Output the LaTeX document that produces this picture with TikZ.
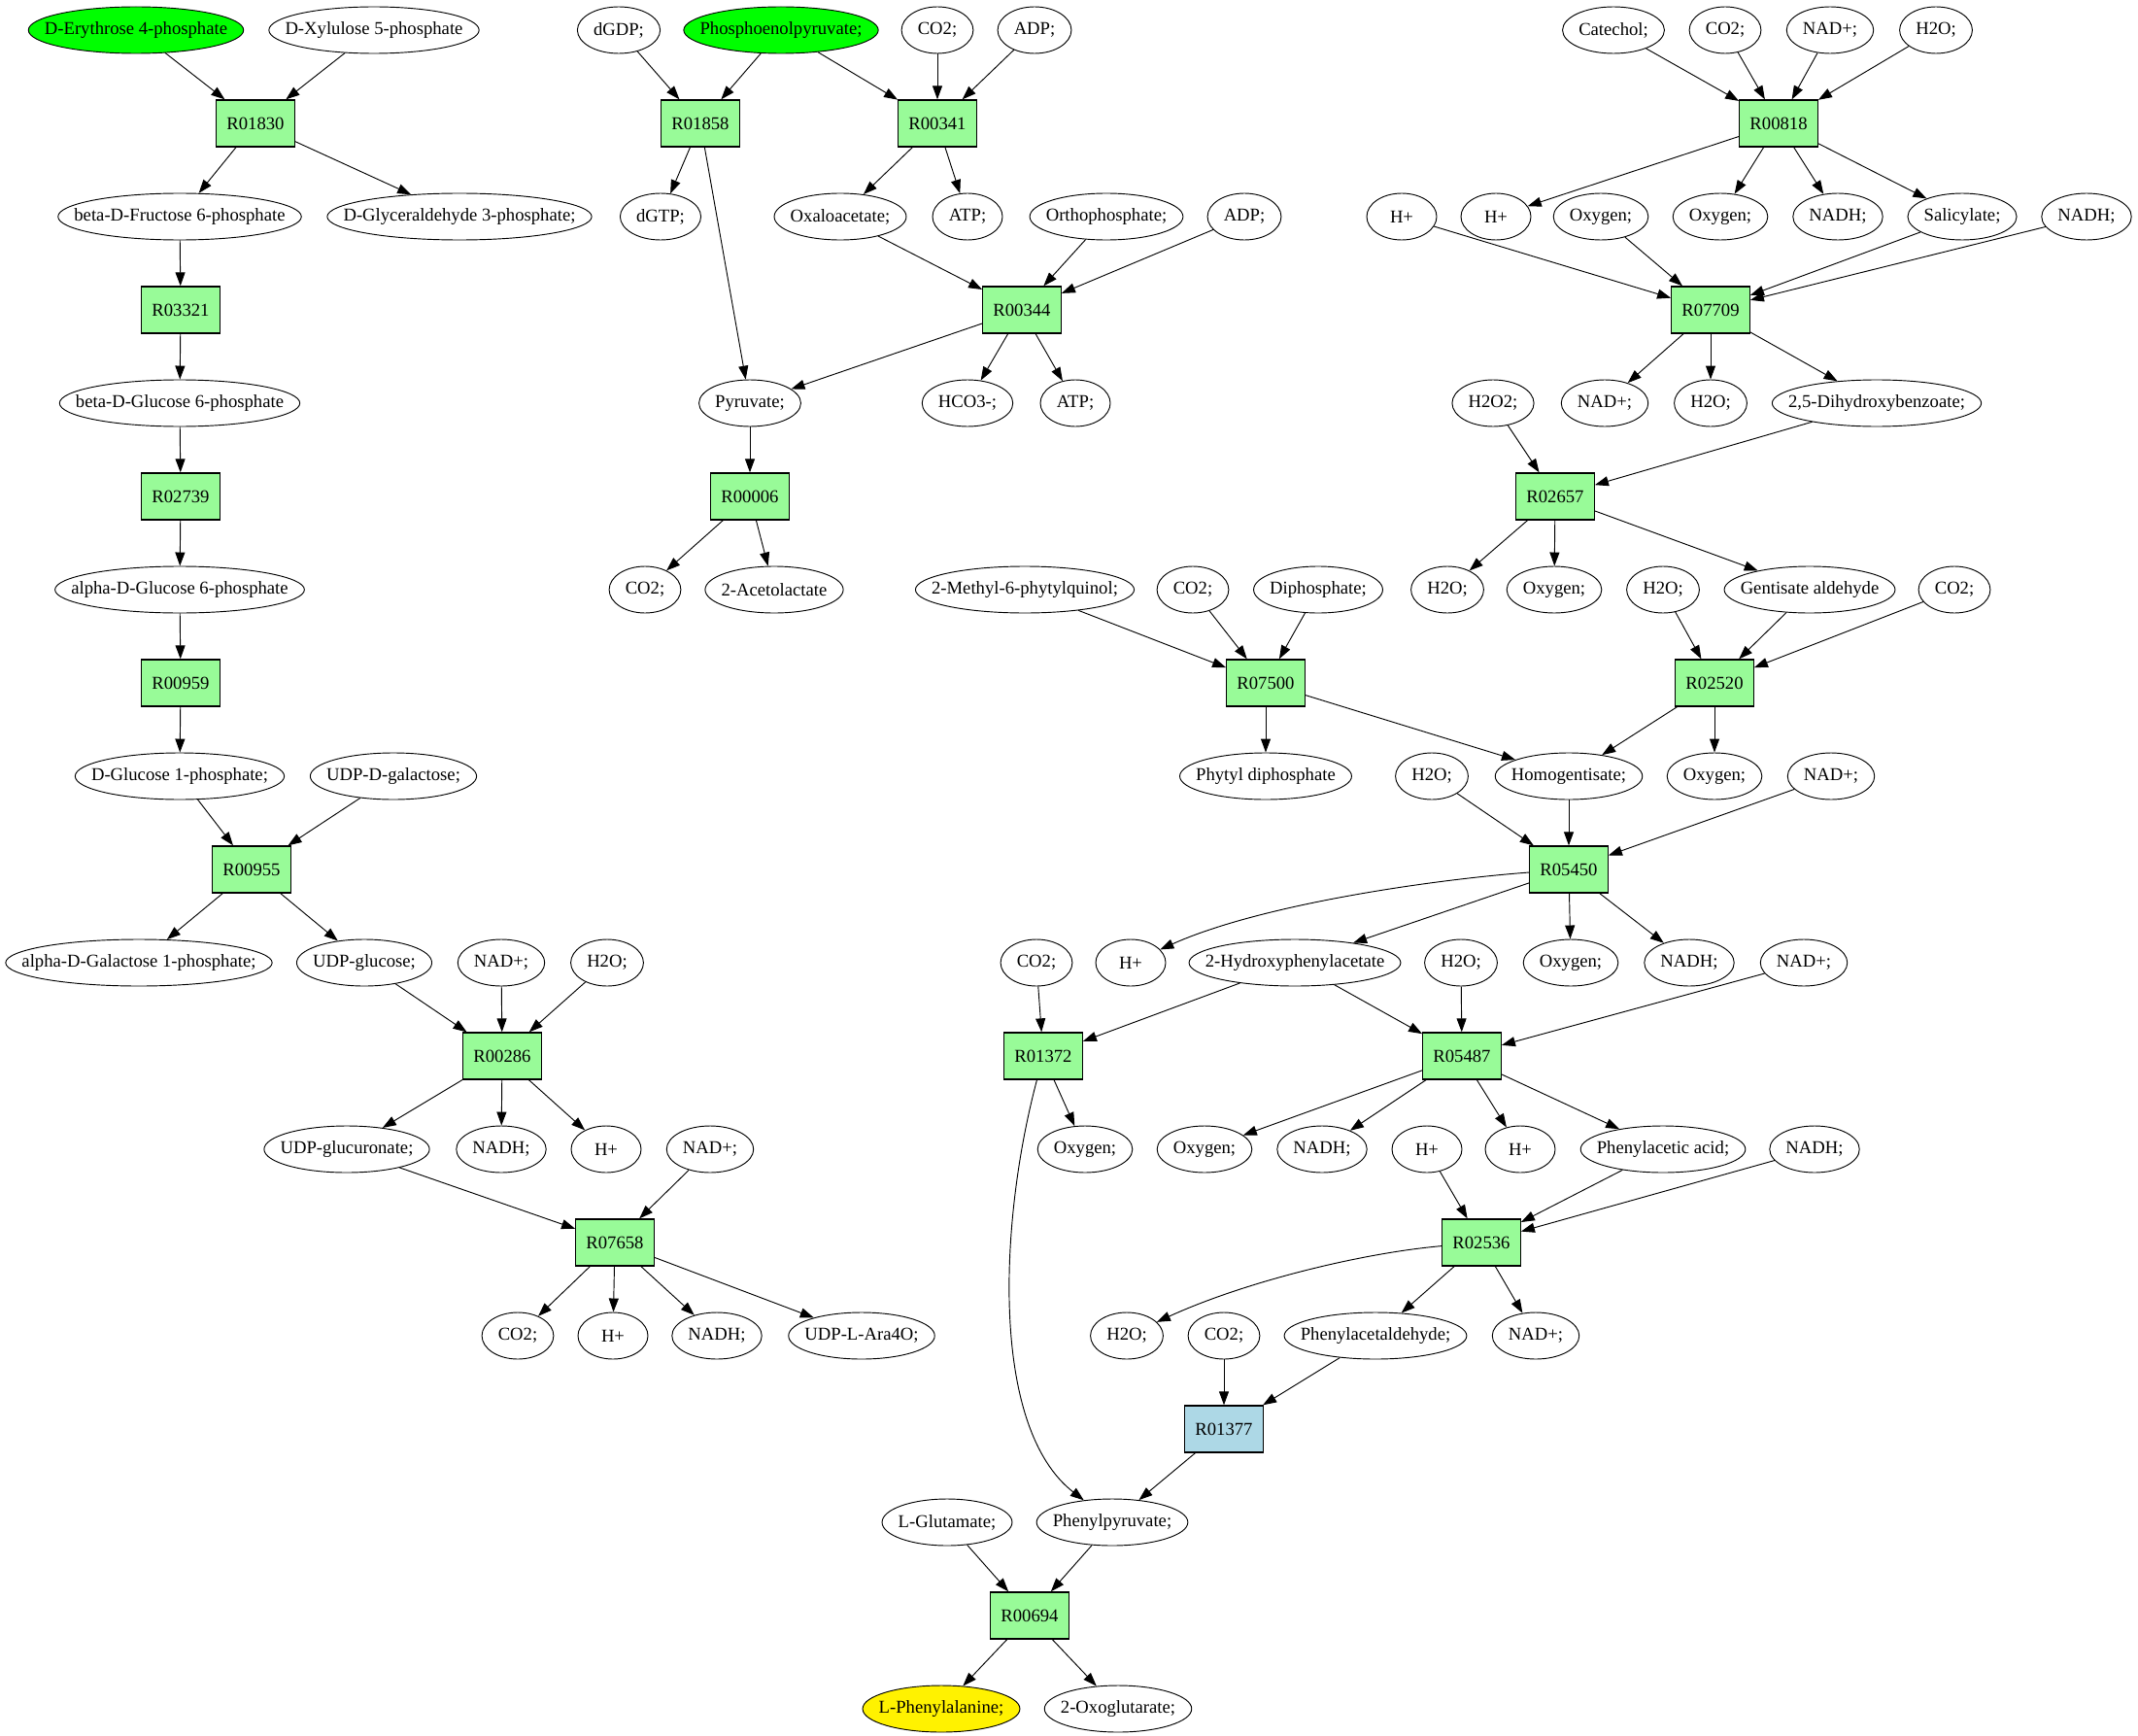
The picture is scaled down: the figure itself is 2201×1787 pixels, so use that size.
\documentclass[tikz,border=0pt]{standalone}
\usepackage{fontspec}
\setmainfont{Liberation Serif}
\usepackage{tikz}
\usetikzlibrary{shapes.geometric,arrows.meta}
\definecolor{palegreen}{HTML}{98FB98}
\definecolor{lightblue}{HTML}{ADD8E6}
% ellipses are sized from a narrowed label box
\newcommand{\gvlabel}[1]{\makebox[0.7071\width]{#1}}

\begin{document}
\begin{tikzpicture}[
		x=0.75pt, y=-0.75pt,
		flow/.style={line width=0.7pt, -{Triangle[length=10.5pt, width=7.5pt]}},
		every edge/.style={draw, flow},
		met/.style={ellipse, draw, line width=0.7pt, minimum width=54pt, minimum height=36pt,
			inner xsep=8.84pt, inner ysep=2pt, font=\fontsize{14}{16}\selectfont},
		rxn/.style={rectangle, draw, line width=1pt, fill=palegreen, minimum width=54pt,
			minimum height=36pt, inner xsep=8pt, font=\fontsize{14}{16}\selectfont}
	]
  \useasboundingbox (0, 0) rectangle (2201, 1787);
  % row 0
  \node (e4p) [met, fill=green] at (140, 31) {\gvlabel{D-Erythrose 4-phosphate}};
  \node (x5p) [met] at (385, 31) {\gvlabel{D-Xylulose 5-phosphate}};
  \node (dgdp) [met] at (637, 31) {\gvlabel{dGDP;}};
  \node (pep) [met, fill=green] at (804, 31) {\gvlabel{Phosphoenolpyruvate;}};
  \node (co2_a) [met] at (965, 31) {\gvlabel{CO2;}};
  \node (adp_a) [met] at (1065, 31) {\gvlabel{ADP;}};
  \node (catechol) [met] at (1661, 31) {\gvlabel{Catechol;}};
  \node (co2_b) [met] at (1776, 31) {\gvlabel{CO2;}};
  \node (nad_a) [met] at (1884, 31) {\gvlabel{NAD+;}};
  \node (h2o_a) [met] at (1993, 31) {\gvlabel{H2O;}};
  % row 1
  \node (r01830) [rxn] at (263, 127) {R01830};
  \node (r01858) [rxn] at (721, 127) {R01858};
  \node (r00341) [rxn] at (965, 127) {R00341};
  \node (r00818) [rxn] at (1831, 127) {R00818};
  % row 2
  \node (f6p) [met] at (185, 223) {\gvlabel{beta-D-Fructose 6-phosphate}};
  \node (gap) [met] at (473, 223) {\gvlabel{D-Glyceraldehyde 3-phosphate;}};
  \node (dgtp) [met] at (680, 223) {\gvlabel{dGTP;}};
  \node (oaa) [met] at (865, 223) {\gvlabel{Oxaloacetate;}};
  \node (atp_a) [met] at (996, 223) {\gvlabel{ATP;}};
  \node (pi) [met] at (1139, 223) {\gvlabel{Orthophosphate;}};
  \node (adp_b) [met] at (1281, 223) {\gvlabel{ADP;}};
  \node (h_a) [met] at (1443, 223) {\gvlabel{H+}};
  \node (h_b) [met] at (1540, 223) {\gvlabel{H+}};
  \node (o2_a) [met] at (1648, 223) {\gvlabel{Oxygen;}};
  \node (o2_b) [met] at (1771, 223) {\gvlabel{Oxygen;}};
  \node (nadh_a) [met] at (1892, 223) {\gvlabel{NADH;}};
  \node (salicylate) [met] at (2020, 223) {\gvlabel{Salicylate;}};
  \node (nadh_b) [met] at (2148, 223) {\gvlabel{NADH;}};
  % row 3
  \node (r03321) [rxn] at (186, 319) {R03321};
  \node (r00344) [rxn] at (1052, 319) {R00344};
  \node (r07709) [rxn] at (1761, 319) {R07709};
  % row 4
  \node (bg6p) [met] at (185, 415) {\gvlabel{beta-D-Glucose 6-phosphate}};
  \node (pyr) [met] at (772, 415) {\gvlabel{Pyruvate;}};
  \node (hco3) [met] at (996, 415) {\gvlabel{HCO3-;}};
  \node (atp_b) [met] at (1107, 415) {\gvlabel{ATP;}};
  \node (h2o2) [met] at (1537, 415) {\gvlabel{H2O2;}};
  \node (nad_b) [met] at (1652, 415) {\gvlabel{NAD+;}};
  \node (h2o_b) [met] at (1761, 415) {\gvlabel{H2O;}};
  \node (dhb) [met] at (1932, 415) {\gvlabel{2,5-Dihydroxybenzoate;}};
  % row 5
  \node (r02739) [rxn] at (186, 511) {R02739};
  \node (r00006) [rxn] at (772, 511) {R00006};
  \node (r02657) [rxn] at (1601, 511) {R02657};
  % row 6
  \node (ag6p) [met] at (185, 607) {\gvlabel{alpha-D-Glucose 6-phosphate}};
  \node (co2_c) [met] at (664, 607) {\gvlabel{CO2;}};
  \node (acetolactate) [met] at (797, 607) {\gvlabel{2-Acetolactate}};
  \node (mpq) [met] at (1055, 607) {\gvlabel{2-Methyl-6-phytylquinol;}};
  \node (co2_d) [met] at (1228, 607) {\gvlabel{CO2;}};
  \node (ppi) [met] at (1357, 607) {\gvlabel{Diphosphate;}};
  \node (h2o_c) [met] at (1490, 607) {\gvlabel{H2O;}};
  \node (o2_c) [met] at (1600, 607) {\gvlabel{Oxygen;}};
  \node (h2o_d) [met] at (1712, 607) {\gvlabel{H2O;}};
  \node (gald) [met] at (1863, 607) {\gvlabel{Gentisate aldehyde}};
  \node (co2_e) [met] at (2012, 607) {\gvlabel{CO2;}};
  % row 7
  \node (r00959) [rxn] at (186, 703) {R00959};
  \node (r07500) [rxn] at (1303, 703) {R07500};
  \node (r02520) [rxn] at (1765, 703) {R02520};
  % row 8
  \node (g1p) [met] at (185, 799) {\gvlabel{D-Glucose 1-phosphate;}};
  \node (udpgal) [met] at (405, 799) {\gvlabel{UDP-D-galactose;}};
  \node (phytpp) [met] at (1303, 799) {\gvlabel{Phytyl diphosphate}};
  \node (h2o_e) [met] at (1474, 799) {\gvlabel{H2O;}};
  \node (hga) [met] at (1615, 799) {\gvlabel{Homogentisate;}};
  \node (o2_d) [met] at (1765, 799) {\gvlabel{Oxygen;}};
  \node (nad_c) [met] at (1885, 799) {\gvlabel{NAD+;}};
  % row 9
  \node (r00955) [rxn] at (259, 895) {R00955};
  \node (r05450) [rxn] at (1615, 895) {R05450};
  % row 10
  \node (gal1p) [met] at (143, 991) {\gvlabel{alpha-D-Galactose 1-phosphate;}};
  \node (udpglc) [met] at (375, 991) {\gvlabel{UDP-glucose;}};
  \node (nad_d) [met] at (516, 991) {\gvlabel{NAD+;}};
  \node (h2o_f) [met] at (625, 991) {\gvlabel{H2O;}};
  \node (co2_f) [met] at (1067, 991) {\gvlabel{CO2;}};
  \node (h_c) [met] at (1164, 991) {\gvlabel{H+}};
  \node (hpa) [met] at (1333, 991) {\gvlabel{2-Hydroxyphenylacetate}};
  \node (h2o_g) [met] at (1504, 991) {\gvlabel{H2O;}};
  \node (o2_e) [met] at (1617, 991) {\gvlabel{Oxygen;}};
  \node (nadh_c) [met] at (1739, 991) {\gvlabel{NADH;}};
  \node (nad_e) [met] at (1857, 991) {\gvlabel{NAD+;}};
  % row 11
  \node (r00286) [rxn] at (517, 1087) {R00286};
  \node (r01372) [rxn] at (1074, 1087) {R01372};
  \node (r05487) [rxn] at (1505, 1087) {R05487};
  % row 12
  \node (udpglca) [met] at (357, 1183) {\gvlabel{UDP-glucuronate;}};
  \node (nadh_d) [met] at (516, 1183) {\gvlabel{NADH;}};
  \node (h_d) [met] at (624, 1183) {\gvlabel{H+}};
  \node (nad_f) [met] at (731, 1183) {\gvlabel{NAD+;}};
  \node (o2_f) [met] at (1117, 1183) {\gvlabel{Oxygen;}};
  \node (o2_g) [met] at (1240, 1183) {\gvlabel{Oxygen;}};
  \node (nadh_e) [met] at (1361, 1183) {\gvlabel{NADH;}};
  \node (h_e) [met] at (1469, 1183) {\gvlabel{H+}};
  \node (h_f) [met] at (1565, 1183) {\gvlabel{H+}};
  \node (paa) [met] at (1712, 1183) {\gvlabel{Phenylacetic acid;}};
  \node (nadh_f) [met] at (1868, 1183) {\gvlabel{NADH;}};
  % row 13
  \node (r07658) [rxn] at (633, 1279) {R07658};
  \node (r02536) [rxn] at (1525, 1279) {R02536};
  % row 14
  \node (co2_g) [met] at (533, 1375) {\gvlabel{CO2;}};
  \node (h_g) [met] at (631, 1375) {\gvlabel{H+}};
  \node (nadh_g) [met] at (738, 1375) {\gvlabel{NADH;}};
  \node (udpara) [met] at (887, 1375) {\gvlabel{UDP-L-Ara4O;}};
  \node (h2o_h) [met] at (1160, 1375) {\gvlabel{H2O;}};
  \node (co2_h) [met] at (1260, 1375) {\gvlabel{CO2;}};
  \node (pacald) [met] at (1416, 1375) {\gvlabel{Phenylacetaldehyde;}};
  \node (nad_g) [met] at (1581, 1375) {\gvlabel{NAD+;}};
  % rows 15 to 18
  \node (r01377) [rxn, fill=lightblue] at (1260, 1471) {R01377};
  \node (glu) [met] at (975, 1567) {\gvlabel{L-Glutamate;}};
  \node (phpyr) [met] at (1145, 1567) {\gvlabel{Phenylpyruvate;}};
  \node (r00694) [rxn] at (1060, 1663) {R00694};
  \node (phe) [met, fill=yellow] at (969, 1759) {\gvlabel{L-Phenylalanine;}};
  \node (akg) [met] at (1151, 1759) {\gvlabel{2-Oxoglutarate;}};

  % sugar branch
  \draw (e4p) edge (r01830);
  \draw (x5p) edge (r01830);
  \draw (r01830) edge (f6p);
  \draw (r01830) edge (gap);
  \draw (f6p) edge (r03321);
  \draw (r03321) edge (bg6p);
  \draw (bg6p) edge (r02739);
  \draw (r02739) edge (ag6p);
  \draw (ag6p) edge (r00959);
  \draw (r00959) edge (g1p);
  \draw (g1p) edge (r00955);
  \draw (udpgal) edge (r00955);
  \draw (r00955) edge (gal1p);
  \draw (r00955) edge (udpglc);
  \draw (udpglc) edge (r00286);
  \draw (nad_d) edge (r00286);
  \draw (h2o_f) edge (r00286);
  \draw (r00286) edge (udpglca);
  \draw (r00286) edge (nadh_d);
  \draw (r00286) edge (h_d);
  \draw (udpglca) edge (r07658);
  \draw (nad_f) edge (r07658);
  \draw (r07658) edge (co2_g);
  \draw (r07658) edge (h_g);
  \draw (r07658) edge (nadh_g);
  \draw (r07658) edge (udpara);
  % pyruvate branch
  \draw (dgdp) edge (r01858);
  \draw (pep) edge (r01858);
  \draw (r01858) edge (dgtp);
  \draw (r01858) edge (pyr);
  \draw (pep) edge (r00341);
  \draw (co2_a) edge (r00341);
  \draw (adp_a) edge (r00341);
  \draw (r00341) edge (oaa);
  \draw (r00341) edge (atp_a);
  \draw (oaa) edge (r00344);
  \draw (pi) edge (r00344);
  \draw (adp_b) edge (r00344);
  \draw (r00344) edge (pyr);
  \draw (r00344) edge (hco3);
  \draw (r00344) edge (atp_b);
  \draw (pyr) edge (r00006);
  \draw (r00006) edge (co2_c);
  \draw (r00006) edge (acetolactate);
  % aromatic branch
  \draw (catechol) edge (r00818);
  \draw (co2_b) edge (r00818);
  \draw (nad_a) edge (r00818);
  \draw (h2o_a) edge (r00818);
  \draw (r00818) edge (h_b);
  \draw (r00818) edge (o2_b);
  \draw (r00818) edge (nadh_a);
  \draw (r00818) edge (salicylate);
  \draw (h_a) edge (r07709);
  \draw (o2_a) edge (r07709);
  \draw (salicylate) edge (r07709);
  \draw (nadh_b) edge (r07709);
  \draw (r07709) edge (nad_b);
  \draw (r07709) edge (h2o_b);
  \draw (r07709) edge (dhb);
  \draw (h2o2) edge (r02657);
  \draw (dhb) edge (r02657);
  \draw (r02657) edge (h2o_c);
  \draw (r02657) edge (o2_c);
  \draw (r02657) edge (gald);
  \draw (h2o_d) edge (r02520);
  \draw (gald) edge (r02520);
  \draw (co2_e) edge (r02520);
  \draw (r02520) edge (hga);
  \draw (r02520) edge (o2_d);
  \draw (mpq) edge (r07500);
  \draw (co2_d) edge (r07500);
  \draw (ppi) edge (r07500);
  \draw (r07500) edge (phytpp);
  \draw (r07500) edge (hga);
  \draw (h2o_e) edge (r05450);
  \draw (hga) edge (r05450);
  \draw (nad_c) edge (r05450);
  \draw [flow] (r05450) .. controls (1480, 905) and (1300, 930) .. (h_c);
  \draw (r05450) edge (hpa);
  \draw (r05450) edge (o2_e);
  \draw (r05450) edge (nadh_c);
  \draw (co2_f) edge (r01372);
  \draw (hpa) edge (r01372);
  \draw (r01372) edge (o2_f);
  \draw [flow] (r01372) .. controls (1028, 1260) and (1020, 1470) .. (phpyr);
  \draw (hpa) edge (r05487);
  \draw (h2o_g) edge (r05487);
  \draw (nad_e) edge (r05487);
  \draw (r05487) edge (o2_g);
  \draw (r05487) edge (nadh_e);
  \draw (r05487) edge (h_f);
  \draw (r05487) edge (paa);
  \draw (h_e) edge (r02536);
  \draw (paa) edge (r02536);
  \draw (nadh_f) edge (r02536);
  \draw [flow] (r02536) .. controls (1400, 1290) and (1280, 1320) .. (h2o_h);
  \draw (r02536) edge (pacald);
  \draw (r02536) edge (nad_g);
  \draw (co2_h) edge (r01377);
  \draw (pacald) edge (r01377);
  \draw (r01377) edge (phpyr);
  \draw (glu) edge (r00694);
  \draw (phpyr) edge (r00694);
  \draw (r00694) edge (phe);
  \draw (r00694) edge (akg);
\end{tikzpicture}
\end{document}
